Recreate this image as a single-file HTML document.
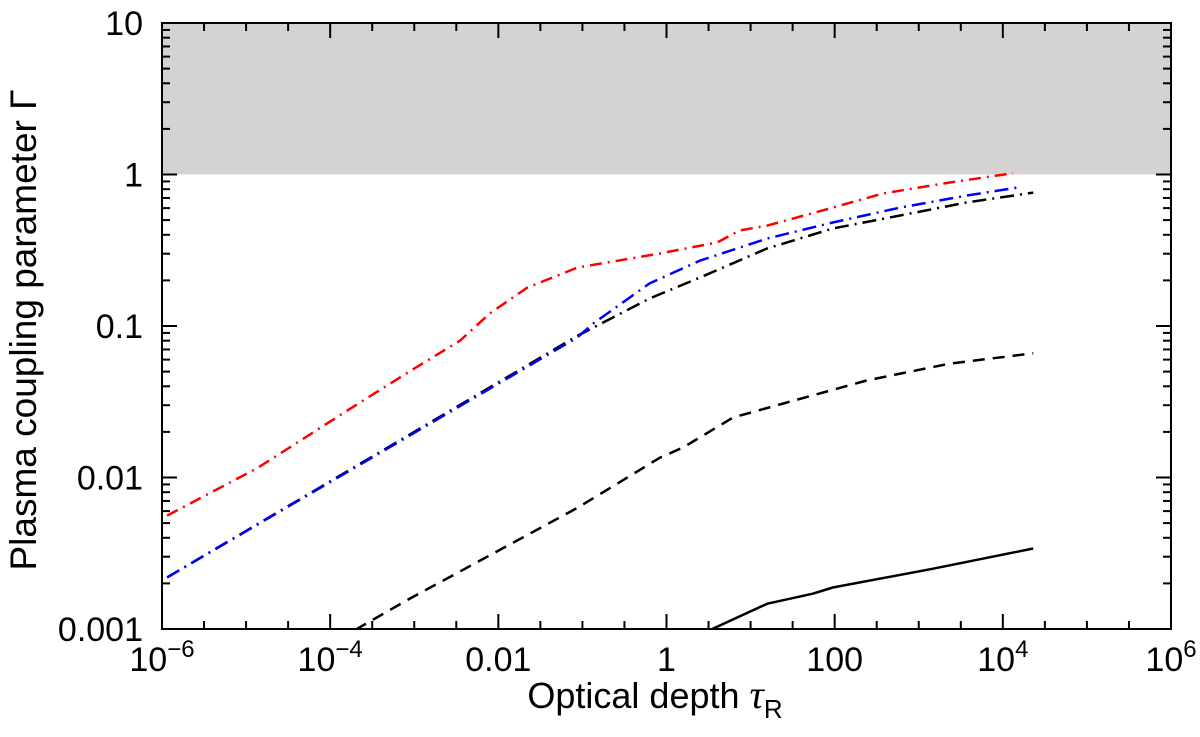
<!DOCTYPE html>
<html><head><meta charset="utf-8"><style>
html,body{margin:0;padding:0;background:#fff;}
svg{display:block;font-family:"Liberation Sans",Helvetica,Arial,sans-serif;}
</style></head><body>
<svg id="chart" width="1200" height="737" viewBox="0 0 1200 737" xmlns="http://www.w3.org/2000/svg">
<defs><clipPath id="plotclip"><rect x="162" y="23" width="1009" height="606"/></clipPath></defs>
<g id="plot"></g>
</svg>
<script>
// ---- data ----
const xTickValues = [1e-6, 1e-4, 1e-2, 1, 100, 1e4, 1e6];
const xTickLabels = ["10<sup>−6</sup>", "10<sup>−4</sup>", "0.01", "1", "100", "10<sup>4</sup>", "10<sup>6</sup>"];
const yTickValues = [0.001, 0.01, 0.1, 1, 10];
const yTickLabels = ["0.001", "0.01", "0.1", "1", "10"];
const shadeLow = 1, shadeHigh = 10;

const redTau = [1.15e-6, 1.35e-5, 2.2e-4, 9.8e-4, 3.5e-3, 7.9e-3, 2.2e-2, 8.7e-2, 0.83, 4.0, 7.4, 15.8, 95, 380, 2340, 1.32e4];
const redGamma = [5.6e-3, 1.15e-2, 3.1e-2, 5.2e-2, 8.0e-2, 0.121, 0.179, 0.243, 0.301, 0.356, 0.427, 0.46, 0.605, 0.75, 0.885, 1.02];

const blueTau = [1.15e-6, 8.7e-2, 0.135, 0.63, 2.5, 15.8, 95, 600, 3700, 1.48e4];
const blueGamma = [2.19e-3, 8.4e-2, 0.104, 0.191, 0.27, 0.378, 0.482, 0.605, 0.726, 0.82];

const blackDashDotTau = [1.15e-6, 8.7e-2, 0.63, 2.5, 15.8, 95, 600, 3700, 2.3e4];
const blackDashDotGamma = [2.19e-3, 8.6e-2, 0.152, 0.209, 0.325, 0.44, 0.536, 0.653, 0.76];

const blackDashedTau = [2.0e-4, 8.9e-4, 8.7e-3, 8.7e-2, 0.83, 1.58, 6.2, 24.5, 240, 2340, 2.3e4];
const blackDashedGamma = [9.9e-4, 1.59e-3, 3.15e-3, 6.3e-3, 1.35e-2, 1.58e-2, 2.49e-2, 3.08e-2, 4.37e-2, 5.65e-2, 6.6e-2];

const solidTau = [1.9, 3.5, 15.8, 55, 95, 1480, 2.3e4];
const solidGamma = [8.4e-4, 1.0e-3, 1.47e-3, 1.71e-3, 1.88e-3, 2.5e-3, 3.4e-3];

// ---- axes ----
const X0 = 162, X1 = 1171, Y0 = 629, Y1 = 23;
const xMinL = -6, xMaxL = 6, yMinL = -3, yMaxL = 1;
function xs(v){ return X0 + (Math.log10(v) - xMinL) / (xMaxL - xMinL) * (X1 - X0); }
function ys(v){ return Y0 - (Math.log10(v) - yMinL) / (yMaxL - yMinL) * (Y0 - Y1); }

const NS = "http://www.w3.org/2000/svg";
const plot = document.getElementById("plot");
function mk(tag, attrs, parent){
  const e = document.createElementNS(NS, tag);
  for (const k in attrs) e.setAttribute(k, attrs[k]);
  (parent || plot).appendChild(e);
  return e;
}

const shade = mk("rect", {x: X0, y: ys(shadeHigh), width: X1 - X0, height: ys(shadeLow) - ys(shadeHigh), fill: "#d3d3d3"});



function series(tau, gam, color, dash, name){
  let d = "";
  for (let i = 0; i < tau.length; i++) d += (i ? "L" : "M") + xs(tau[i]).toFixed(1) + " " + ys(gam[i]).toFixed(1);
  const p = mk("path", {d: d, fill: "none", stroke: color, "stroke-width": 2.5, "stroke-dasharray": dash, "clip-path": "url(#plotclip)", "stroke-linejoin": "round"});
  
  
}
series(solidTau, solidGamma, "#000", "none", "solid-black-curve");
series(blackDashedTau, blackDashedGamma, "#000", "12 8", "dashed-black-curve");
series(blackDashDotTau, blackDashDotGamma, "#000", "14 6 2 6", "dash-dot-black-curve");
series(blueTau, blueGamma, "#0000ff", "14 6 2 6", "dash-dot-blue-curve");
series(redTau, redGamma, "#ff0000", "12 6 2 6", "dash-dot-red-curve");

const frame = mk("rect", {x: X0, y: Y1, width: X1 - X0, height: Y0 - Y1, fill: "none", stroke: "#000", "stroke-width": 2});



const ticks = mk("g", {stroke: "#000", "stroke-width": 2});


for (let l = xMinL; l <= xMaxL + 1e-9; l += 0.5){
  const x = xs(Math.pow(10, l));
  const major = Math.abs(l % 2) < 1e-9;
  const len = major ? 15 : 8;
  mk("line", {x1: x, x2: x, y1: Y0, y2: Y0 - len}, ticks);
  mk("line", {x1: x, x2: x, y1: Y1, y2: Y1 + len}, ticks);
}
for (let l = yMinL; l < yMaxL + 1e-9; l++){
  for (let m = 1; m <= 9; m++){
    const v = m * Math.pow(10, l);
    if (Math.log10(v) > yMaxL + 1e-9) break;
    const y = ys(v);
    const len = m === 1 ? 15 : 8;
    mk("line", {x1: X0, x2: X0 + len, y1: y, y2: y}, ticks);
    mk("line", {x1: X1, x2: X1 - len, y1: y, y2: y}, ticks);
  }
}

for (let i = 0; i < xTickValues.length; i++){
  const fo = mk("foreignObject", {x: xs(xTickValues[i]) - 70, y: 638, width: 140, height: 50});
  const div = document.createElement("div");
  
  
  div.style.cssText = "font:34px 'Liberation Sans',Arial,sans-serif;text-align:center;line-height:44px;color:#000;";
  div.innerHTML = xTickLabels[i].replace("<sup>", "<sup style='font-size:24px;vertical-align:14px;line-height:0'>");
  fo.appendChild(div);
}
for (let i = 0; i < yTickValues.length; i++){
  const t = mk("text", {x: 143, y: ys(yTickValues[i]) + 12, "text-anchor": "end", "font-size": 34, fill: "#000"});
  t.textContent = yTickLabels[i];
  
  
}

const xt = mk("text", {x: 655, y: 708, "text-anchor": "middle", "font-size": 36, fill: "#000"});


xt.innerHTML = 'Optical depth <tspan font-family="Liberation Serif" font-style="italic" font-size="40">τ</tspan><tspan font-size="26" dy="10">R</tspan>';
const yt = mk("text", {x: 0, y: 0, "text-anchor": "middle", "font-size": 37, fill: "#000", transform: "translate(36,330) rotate(-90)"});


yt.textContent = "Plasma coupling parameter Γ";
</script>
</body></html>
